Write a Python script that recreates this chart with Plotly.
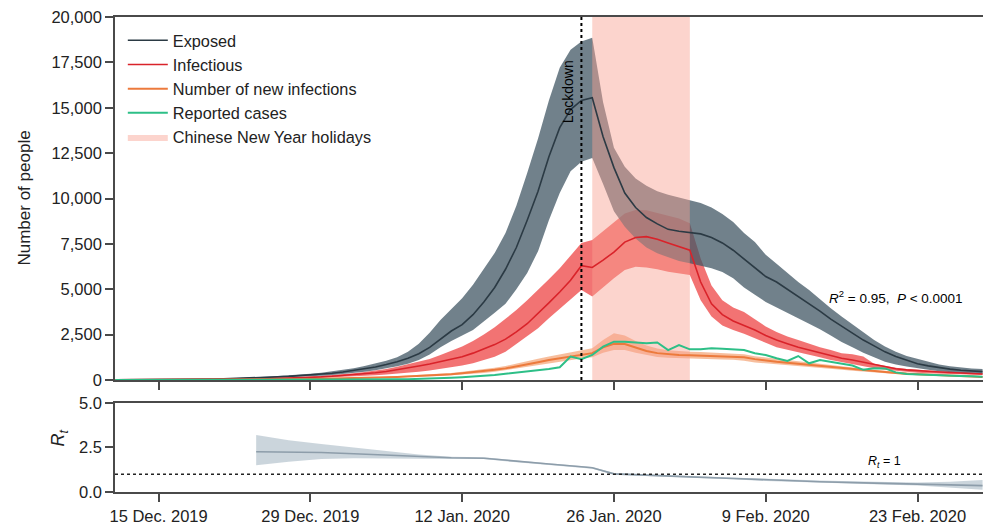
import pandas as pd
import plotly.graph_objects as go

# ---------------------------------------------------------------------------
# Daily model output, 11 Dec. 2019 - 29 Feb. 2020
# ---------------------------------------------------------------------------
dates = pd.date_range("2019-12-11", "2020-02-29", freq="D")

exposed = [
    10, 12, 15, 18, 22, 27, 33, 40, 48, 58, 70,
    84, 100, 120, 143, 170, 200, 235, 275, 320, 375,
    440, 520, 610, 720, 850, 1000, 1200, 1450, 1800, 2250,
    2700, 3050, 3600, 4300, 5100, 6100, 7300, 8800, 10400, 12300,
    13900, 14900, 15400, 15550, 13400, 11700, 10300, 9500, 8950, 8600,
    8300, 8200, 8120, 8050, 7850, 7550, 7150, 6650, 6150, 5700,
    5400, 5000, 4600, 4220, 3800, 3350, 2950, 2600, 2200, 1880,
    1550, 1300, 1080, 900, 780, 680, 600, 540, 490, 460,
]
exposed_hi = [
    13, 15, 19, 23, 28, 34, 42, 50, 60, 73, 88,
    105, 125, 150, 180, 215, 250, 295, 345, 400, 470,
    550, 650, 770, 900, 1060, 1250, 1550, 2000, 2600, 3300,
    3900, 4500, 5250, 6100, 7000, 8100, 9600, 11400, 13300, 15400,
    17200, 18200, 18650, 18850, 15300, 12800, 11750, 11100, 10700, 10400,
    10200, 10050, 9920, 9750, 9500, 9150, 8700, 8100, 7600, 6900,
    6400, 5900, 5400, 4960, 4450, 3950, 3500, 3050, 2600, 2200,
    1850, 1550, 1320, 1150, 1000, 850, 760, 690, 640, 600,
]
exposed_lo = [
    8, 9, 11, 14, 17, 20, 25, 30, 36, 44, 53,
    63, 75, 90, 107, 127, 150, 175, 205, 240, 280,
    330, 390, 460, 540, 640, 760, 900, 1100, 1400, 1800,
    2150, 2450, 2750, 3200, 3700, 4200, 5000, 5900, 7100, 8800,
    10300, 11500, 12030, 12230, 10800, 9300, 8450, 7800, 7300, 6980,
    6750, 6550, 6430, 6300, 6150, 5950, 5600, 5100, 4700, 4300,
    4000, 3700, 3400, 3100, 2800, 2450, 2100, 1800, 1500, 1250,
    1000, 850, 740, 640, 560, 480, 420, 380, 350, 330,
]

infectious = [
    5, 6, 7, 9, 11, 13, 16, 19, 22, 26, 30,
    36, 44, 53, 64, 78, 95, 115, 140, 170, 205,
    245, 290, 340, 400, 470, 560, 660, 770, 880, 1000,
    1130, 1280, 1480, 1700, 1950, 2250, 2650, 3100, 3650, 4250,
    4850, 5500, 6300, 6200, 6600, 7050, 7600, 7850, 7900, 7750,
    7550, 7350, 7150, 5400, 4200, 3600, 3250, 3000, 2750, 2450,
    2200, 2000, 1800, 1650, 1500, 1350, 1200, 1100, 980, 850,
    700, 620, 560, 510, 470, 440, 410, 380, 350, 330,
]
infectious_hi = [
    7, 8, 9, 12, 14, 17, 21, 25, 29, 34, 39,
    47, 57, 69, 83, 101, 124, 150, 182, 221, 267,
    318, 377, 442, 520, 611, 728, 860, 1000, 1150, 1380,
    1600, 1850, 2150, 2500, 2900, 3350, 3850, 4400, 4950, 5550,
    6150, 6850, 7550, 7710, 8200, 8700, 9180, 9370, 9350, 9200,
    9050, 8900, 8640, 6700, 5200, 4400, 4000, 3750, 3350, 2950,
    2650, 2400, 2200, 2000, 1800, 1650, 1480, 1420, 1300, 900,
    780, 680, 610, 560, 520, 480, 450, 420, 390, 360,
]
infectious_lo = [
    3, 4, 5, 6, 8, 9, 11, 13, 15, 18, 21,
    25, 31, 37, 45, 55, 67, 80, 98, 119, 143,
    172, 200, 230, 265, 305, 350, 400, 460, 530, 600,
    700, 800, 920, 1080, 1280, 1550, 1950, 2400, 2850, 3400,
    3950, 4450, 4960, 4600, 5100, 5600, 6060, 6240, 6200, 6100,
    5970, 5870, 5790, 4400, 3500, 3000, 2750, 2550, 2300, 2050,
    1800, 1650, 1500, 1380, 1250, 1100, 1000, 880, 760, 650,
    560, 490, 440, 400, 370, 345, 325, 305, 290, 280,
]

new_infections = [
    2, 2, 3, 3, 4, 5, 6, 7, 9, 11, 13,
    15, 18, 22, 26, 31, 37, 44, 52, 60, 70,
    80, 95, 110, 125, 145, 170, 195, 220, 250, 280,
    320, 370, 420, 480, 560, 640, 740, 860, 980, 1100,
    1200, 1300, 1400, 1480, 1800, 2000, 1980, 1780, 1600, 1480,
    1420, 1380, 1360, 1340, 1320, 1310, 1300, 1250, 1150, 1060,
    1000, 950, 890, 830, 780, 720, 660, 600, 530, 470,
    430, 390, 340, 310, 280, 250, 230, 210, 190, 170,
]
new_infections_hi = [
    3, 3, 4, 4, 5, 6, 7, 9, 11, 13, 16,
    18, 22, 27, 32, 38, 45, 53, 63, 73, 85,
    97, 115, 133, 152, 176, 206, 236, 266, 302, 340,
    388, 448, 510, 580, 670, 770, 890, 1030, 1170, 1300,
    1420, 1530, 1630, 1750, 2200, 2570, 2450, 2150, 1900, 1730,
    1640, 1590, 1560, 1540, 1510, 1500, 1480, 1420, 1310, 1230,
    1160, 1100, 1030, 960, 900, 835, 765, 700, 620, 550,
    505, 460, 400, 365, 330, 295, 270, 250, 225, 205,
]
new_infections_lo = [
    1, 1, 2, 2, 3, 4, 5, 6, 7, 9, 10,
    12, 14, 17, 20, 24, 29, 35, 41, 48, 56,
    64, 76, 88, 100, 116, 135, 155, 175, 200, 225,
    255, 295, 335, 385, 450, 515, 600, 700, 800, 910,
    1000, 1090, 1180, 1250, 1500, 1650, 1650, 1500, 1380, 1270,
    1220, 1190, 1170, 1150, 1140, 1130, 1120, 1060, 970, 910,
    860, 810, 760, 710, 670, 615, 565, 510, 450, 400,
    365, 330, 290, 260, 235, 210, 195, 175, 160, 145,
]

reported = [
    0, 0, 0, 0, 0, 0, 0, 0, 0, 0, 0,
    0, 0, 0, 0, 0, 0, 0, 0, 0, 0,
    5, 10, 15, 20, 28, 36, 45, 55, 70, 90,
    120, 150, 180, 220, 270, 340, 400, 460, 530, 600,
    700, 1290, 1150, 1380, 1840, 2110, 2110, 2070, 2020, 2070,
    1650, 1930, 1690, 1700, 1750, 1720, 1700, 1650, 1470, 1380,
    1200, 1050, 1320, 920, 1100, 1010, 900, 800, 560, 650,
    640, 420, 330, 300, 280, 260, 240, 220, 200, 180,
]

# Effective reproduction number
rt_dates = pd.to_datetime([
    "2019-12-24", "2019-12-27", "2019-12-30", "2020-01-02", "2020-01-05",
    "2020-01-08", "2020-01-11", "2020-01-14", "2020-01-17", "2020-01-20",
    "2020-01-23", "2020-01-24", "2020-01-26", "2020-01-29", "2020-02-02",
    "2020-02-06", "2020-02-09", "2020-02-14", "2020-02-19", "2020-02-23",
    "2020-02-26", "2020-02-29",
])
rt_mid = [2.26, 2.24, 2.22, 2.15, 2.07, 1.98, 1.92, 1.90, 1.72, 1.57,
          1.42, 1.36, 1.02, 0.93, 0.85, 0.76, 0.68, 0.58, 0.50, 0.45,
          0.40, 0.36]
rt_lo = [1.50, 1.70, 1.85, 1.90, 1.92, 1.88, 1.86, 1.85, 1.67, 1.52,
         1.37, 1.31, 0.97, 0.88, 0.80, 0.71, 0.62, 0.52, 0.43, 0.36,
         0.25, 0.12]
rt_hi = [3.20, 2.90, 2.70, 2.50, 2.30, 2.10, 1.98, 1.95, 1.77, 1.62,
         1.47, 1.41, 1.07, 0.98, 0.90, 0.81, 0.74, 0.64, 0.57, 0.54,
         0.58, 0.68]

lockdown_date = "2020-01-23"
holiday_start, holiday_end = "2020-01-24", "2020-02-02"

tick_dates = ["2019-12-15", "2019-12-29", "2020-01-12",
              "2020-01-26", "2020-02-09", "2020-02-23"]
tick_text = ["15 Dec. 2019", "29 Dec. 2019", "12 Jan. 2020",
             "26 Jan. 2020", "9 Feb. 2020", "23 Feb. 2020"]
people_ticks = [0, 2500, 5000, 7500, 10000, 12500, 15000, 17500, 20000]
rt_ticks = [0, 2.5, 5.0]

# ---------------------------------------------------------------------------
FONT = "Arial, Liberation Sans, sans-serif"
AXIS = "#4a4a4a"

fig = go.Figure()


def band(x, lo, hi, color, xa="x", ya="y"):
    xs = list(x) + list(x)[::-1]
    ys = list(hi) + list(lo)[::-1]
    fig.add_trace(go.Scatter(x=xs, y=ys, fill="toself", fillcolor=color,
                             mode="lines", line=dict(width=0),
                             showlegend=False, hoverinfo="skip",
                             xaxis=xa, yaxis=ya))


# uncertainty bands (exposed band sits over the infectious one)
band(dates, new_infections_lo, new_infections_hi, "rgba(240,125,60,0.5)")
band(dates, infectious_lo, infectious_hi, "rgba(235,40,40,0.65)")
band(dates, exposed_lo, exposed_hi, "rgba(65,87,100,0.75)")

# holiday shading, drawn over the bands but under the lines
fig.add_trace(go.Scatter(
    x=[holiday_start, holiday_end, holiday_end, holiday_start, holiday_start],
    y=[0, 0, 20000, 20000, 0], fill="toself",
    fillcolor="rgba(248,160,145,0.45)", mode="lines", line=dict(width=0),
    name="Chinese New Year holidays", legendrank=5, hoverinfo="skip"))

fig.add_trace(go.Scatter(x=dates, y=exposed, mode="lines", name="Exposed",
                         line=dict(color="#2b3a44", width=1.6), legendrank=1))
fig.add_trace(go.Scatter(x=dates, y=infectious, mode="lines", name="Infectious",
                         line=dict(color="#d9232a", width=1.6), legendrank=2))
fig.add_trace(go.Scatter(x=dates, y=new_infections, mode="lines",
                         name="Number of new infections",
                         line=dict(color="#ec7a3c", width=2), legendrank=3))
fig.add_trace(go.Scatter(x=dates, y=reported, mode="lines",
                         name="Reported cases",
                         line=dict(color="#2dbf87", width=2), legendrank=4))

# R_t panel
band(rt_dates, rt_lo, rt_hi, "rgba(140,162,178,0.45)", "x2", "y2")
fig.add_trace(go.Scatter(x=rt_dates, y=rt_mid, mode="lines", showlegend=False,
                         line=dict(color="#8d9daa", width=1.6),
                         xaxis="x2", yaxis="y2"))

xrange = ["2019-12-10 23:30", "2020-02-29 01:00"]
common_x = dict(type="date", range=xrange, tickvals=tick_dates,
                showline=True, linecolor=AXIS, linewidth=1.6, mirror=True,
                ticks="outside", ticklen=8, tickwidth=1.5, tickcolor=AXIS,
                showgrid=False, zeroline=False)
common_y = dict(showline=True, linecolor=AXIS, linewidth=1.6,
                ticks="outside", ticklen=8, tickwidth=1.5, tickcolor=AXIS,
                showgrid=False, zeroline=False,
                tickfont=dict(family=FONT, size=16.5, color="#222"))

fig.update_layout(
    width=983, height=524,
    margin=dict(l=115, r=0, t=17, b=32),
    plot_bgcolor="white", paper_bgcolor="white",
    font=dict(family=FONT, color="#222"),
    xaxis=dict(**common_x, domain=[0, 1], anchor="y", showticklabels=False),
    yaxis=dict(**common_y, domain=[0.2358, 1], range=[0, 20000],
               tickvals=people_ticks, tickformat=",d"),
    xaxis2=dict(**common_x, domain=[0, 1], anchor="y2", ticktext=tick_text,
                tickfont=dict(family=FONT, size=16.5, color="#222")),
    yaxis2=dict(**common_y, domain=[0, 0.1874], range=[0, 5],
                tickvals=rt_ticks, tickformat=".1f"),
    legend=dict(x=0.009, y=0.987, xanchor="left", yanchor="top",
                bgcolor="rgba(0,0,0,0)", font=dict(family=FONT, size=16.3),
                itemwidth=40, traceorder="normal"),
    showlegend=True,
)

# lockdown marker and R_t = 1 reference
fig.add_shape(type="line", x0=lockdown_date, x1=lockdown_date, y0=0, y1=20000,
              xref="x", yref="y", line=dict(color="black", width=2, dash="dot"))
fig.add_shape(type="line", x0=0, x1=1, y0=1, y1=1, xref="x2 domain",
              yref="y2", line=dict(color="#222", width=1.5, dash="dot"))

fig.add_annotation(x=lockdown_date, y=15870, xref="x", yref="y",
                   text="Lockdown", textangle=-90, showarrow=False,
                   xshift=-13, font=dict(family=FONT, size=14, color="black"))
fig.add_annotation(x="2020-02-21", y=4570, xref="x", yref="y",
                   text="<i>R</i><sup>2</sup> = 0.95,  <i>P</i> &lt; 0.0001",
                   showarrow=False, font=dict(family=FONT, size=13.5, color="black"))
fig.add_annotation(x="2020-02-20", y=1.69, xref="x2", yref="y2",
                   text="<i>R</i><sub><i>t</i></sub> = 1", showarrow=False,
                   font=dict(family=FONT, size=12.5, color="black"))

# axis titles
fig.add_annotation(x=-0.118, y=0.618, xref="paper", yref="paper",
                   text="Number of people", textangle=-90, showarrow=False,
                   font=dict(family=FONT, size=17, color="#222"))
fig.add_annotation(x=-0.079, y=0.0926, xref="paper", yref="paper",
                   text="<i>R</i><sub><i>t</i></sub>", textangle=-90,
                   showarrow=False, font=dict(family=FONT, size=18, color="#222"))

fig.write_html("out.html")
